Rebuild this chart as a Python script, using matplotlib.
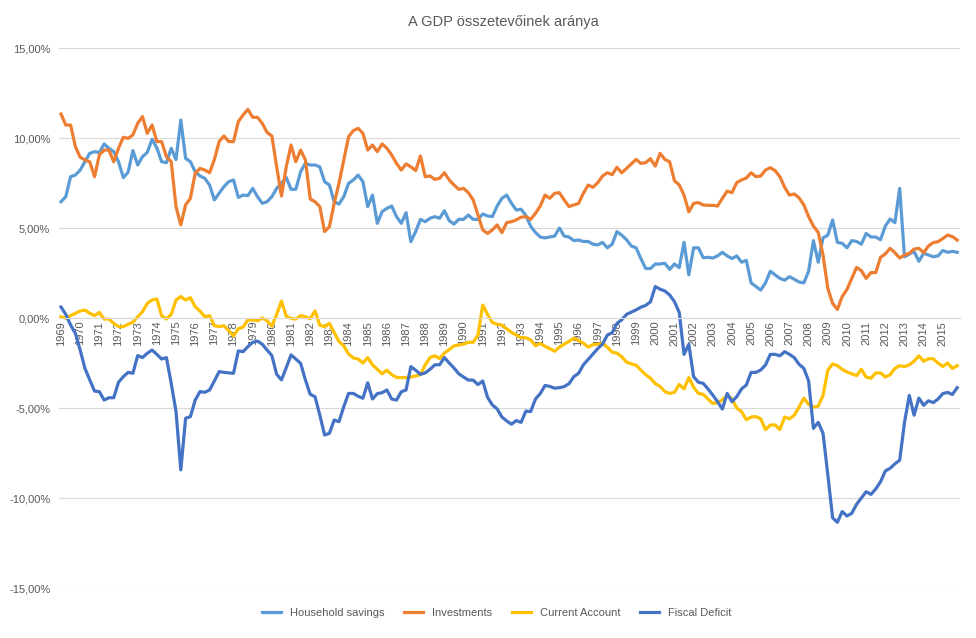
import matplotlib.pyplot as plt
import numpy as np
from matplotlib.ticker import FuncFormatter

# quarterly values, 1969Q1 .. 2015Q4, in % of GDP
years = list(range(1969, 2016))

household_savings = [
    6.46, 6.74, 7.85, 7.94,   8.22, 8.68, 9.15, 9.24,   9.19, 9.67, 9.43, 9.24,
    8.68, 7.8, 8.1, 9.3,      8.5, 8.96, 9.2, 9.93,     9.45, 8.68, 8.63, 9.43,
    8.8, 11.0, 8.87, 8.68,    8.13, 7.89, 7.76, 7.39,   6.56, 6.93, 7.3, 7.57,
    7.67, 6.7, 6.83, 6.8,     7.2, 6.74, 6.37, 6.46,    6.74, 7.2, 7.48, 7.81,
    7.15, 7.15, 8.13, 8.6,    8.5, 8.5, 8.4, 7.57,      7.39, 6.46, 6.33, 6.74,
    7.48, 7.67, 7.94, 7.57,   6.19, 6.83, 5.26, 5.91,   6.09, 6.22, 5.63, 5.26,
    5.85, 4.24, 4.8, 5.48,    5.35, 5.54, 5.63, 5.54,   5.96, 5.41, 5.22, 5.48,
    5.48, 5.72, 5.48, 5.48,   5.78, 5.67, 5.63, 6.22,   6.65, 6.83, 6.37, 6.0,
    6.04, 5.7, 5.1, 4.75,     4.5, 4.45, 4.5, 4.55,     5.0, 4.55, 4.5, 4.3,
    4.33, 4.25, 4.25, 4.1,    4.06, 4.2, 3.9, 4.1,      4.8, 4.6, 4.35, 4.0,
    3.9, 3.3, 2.75, 2.75,     3.0, 3.0, 3.04, 2.7,      3.0, 2.8, 4.2, 2.4,
    3.9, 3.9, 3.35, 3.37,     3.33, 3.45, 3.65, 3.45,   3.3, 3.45, 3.1, 3.2,
    1.95, 1.75, 1.55, 1.95,   2.6, 2.4, 2.2, 2.1,       2.3, 2.15, 2.0, 1.95,
    2.6, 4.3, 3.1, 4.45,      4.6, 5.45, 4.2, 4.15,     3.9, 4.3, 4.25, 4.1,
    4.7, 4.5, 4.5, 4.35,      5.1, 5.5, 5.3, 7.2,       3.4, 3.55, 3.7, 3.15,
    3.6, 3.5, 3.4, 3.45,      3.75, 3.65, 3.7, 3.65,
]

investments = [
    11.33, 10.72, 10.72, 9.52, 8.93, 8.78, 8.68, 7.85,   9.06, 9.33, 9.33, 8.68,
    9.43, 10.04, 9.98, 10.17,  10.81, 11.19, 10.26, 10.72, 9.8, 9.8, 8.96, 8.68,
    6.19, 5.17, 6.28, 6.65,    8.04, 8.31, 8.22, 8.07,   8.8, 9.8, 10.11, 9.8,
    9.8, 10.91, 11.28, 11.59,  11.15, 11.15, 10.81, 10.31, 10.11, 8.4, 6.78, 8.4,
    9.61, 8.68, 9.33, 8.78,    6.61, 6.46, 6.19, 4.8,    5.07, 6.37, 7.48, 8.78,
    10.07, 10.41, 10.54, 10.26, 9.33, 9.61, 9.24, 9.67, 9.43, 9.06, 8.59, 8.22,
    8.56, 8.4, 8.19, 9.0,      7.85, 7.89, 7.7, 7.76,    8.07, 7.67, 7.39, 7.15,
    7.2, 6.96, 6.56, 5.72,     4.89, 4.7, 4.89, 5.17,    4.74, 5.3, 5.35, 5.45,
    5.6, 5.63, 5.48, 5.81,     6.22, 6.83, 6.65, 6.93,   6.96, 6.56, 6.19, 6.28,
    6.37, 6.93, 7.39, 7.26,    7.52, 7.89, 8.07, 7.96,   8.37, 8.07, 8.31, 8.56,
    8.81, 8.59, 8.63, 8.85,    8.44, 9.15, 8.81, 8.68,   7.63, 7.39, 6.83, 5.9,
    6.37, 6.41, 6.28, 6.26,    6.26, 6.22, 6.65, 7.05,   6.96, 7.52, 7.67, 7.78,
    8.07, 7.85, 7.89, 8.22,    8.35, 8.19, 7.85, 7.26,   6.83, 6.89, 6.68, 6.28,
    5.63, 5.1, 4.76, 3.5,      1.65, 0.81, 0.48, 1.19,   1.59, 2.2, 2.81, 2.63,
    2.2, 2.52, 2.52, 3.37,     3.56, 3.87, 3.63, 3.33,   3.5, 3.59, 3.83, 3.87,
    3.63, 4.0, 4.19, 4.24,     4.41, 4.61, 4.52, 4.33,
]

current_account = [
    0.07, -0.02, 0.13, 0.26,   0.39, 0.44, 0.26, 0.13,   0.31, -0.06, -0.06, -0.3,
    -0.48, -0.48, -0.35, -0.24, 0.07, 0.35, 0.81, 1.0,   1.06, 0.13, -0.06, 0.2,
    1.0, 1.19, 1.0, 1.13,      0.63, 0.39, 0.07, 0.13,   -0.42, -0.48, -0.43, -0.7,
    -1.0, -0.6, -0.5, -0.11,   -0.11, -0.15, 0.0, -0.15, -0.45, 0.2, 0.94, 0.1,
    -0.02, -0.06, 0.13, 0.07,  -0.04, 0.4, -0.4, -0.48,  -0.3, -0.8, -1.3, -1.55,
    -2.0, -2.22, -2.28, -2.5,  -2.2, -2.6, -2.85, -3.1,  -2.9, -3.15, -3.3, -3.31,
    -3.31, -3.28, -3.22, -3.15, -2.6, -2.2, -2.1, -2.25, -1.95, -1.75, -1.55, -1.5,
    -1.45, -1.35, -1.35, -0.95, 0.72, 0.2, -0.25, -0.35, -0.39, -0.6, -0.8, -0.95,
    -1.09, -1.1, -1.22, -1.54, -1.41, -1.58, -1.7, -1.85, -1.62, -1.45, -1.3, -1.12,
    -1.25, -1.4, -1.62, -1.48, -1.46, -1.42, -1.62, -1.9, -1.95, -2.15, -2.45, -2.55,
    -2.62, -2.9, -3.15, -3.35, -3.65, -3.8, -4.09, -4.19, -4.13, -3.69, -3.94, -3.31,
    -3.85, -4.19, -4.24, -4.5, -4.75, -4.7, -4.55, -4.3,  -4.5, -5.0, -5.2, -5.65,
    -5.5, -5.48, -5.6, -6.2,   -5.95, -5.94, -6.2, -5.5, -5.6, -5.4, -4.95, -4.45,
    -4.8, -4.95, -4.9, -4.3,   -2.9, -2.55, -2.65, -2.85, -3.0, -3.1, -3.2, -2.85,
    -3.28, -3.35, -3.05, -3.05, -3.28, -3.15, -2.8, -2.65, -2.7, -2.6, -2.4, -2.1,
    -2.4, -2.26, -2.27, -2.5,  -2.7, -2.5, -2.8, -2.65,
]

fiscal_deficit = [
    0.61, 0.2, -0.39, -0.85,   -1.78, -2.8, -3.44, -4.06, -4.09, -4.56, -4.43, -4.43,
    -3.57, -3.26, -3.02, -3.07, -2.09, -2.2, -1.96, -1.78, -2.02, -2.28, -2.2, -3.63,
    -5.2, -8.44, -5.57, -5.48, -4.56, -4.09, -4.13, -4.0, -3.5, -2.98, -3.02, -3.05,
    -3.07, -1.83, -1.87, -1.59, -1.35, -1.28, -1.46, -1.78, -2.09, -3.13, -3.44, -2.76,
    -2.05, -2.28, -2.52, -3.44, -4.24, -4.37, -5.39, -6.5, -6.41, -5.67, -5.76, -4.93,
    -4.19, -4.19, -4.35, -4.46, -3.6, -4.5, -4.2, -4.15, -4.0, -4.5, -4.56, -4.1,
    -4.0, -2.7, -2.9, -3.13,   -3.05, -2.85, -2.6, -2.6, -2.2, -2.5, -2.78, -3.1,
    -3.28, -3.45, -3.45, -3.7, -3.5, -4.4, -4.83, -5.05, -5.5, -5.72, -5.9, -5.7,
    -5.8, -5.17, -5.2, -4.5,   -4.2, -3.75, -3.8, -3.9,  -3.87, -3.81, -3.65, -3.26,
    -3.07, -2.6, -2.3, -2.0,   -1.7, -1.45, -0.95, -0.82, -0.3, -0.1, 0.2, 0.33,
    0.45, 0.6, 0.7, 0.9,       1.75, 1.6, 1.5, 1.28,     0.91, 0.31, -2.02, -1.46,
    -3.26, -3.57, -3.63, -3.94, -4.28, -4.65, -5.06, -4.19, -4.65, -4.37, -3.94, -3.72,
    -3.02, -3.02, -2.89, -2.61, -2.02, -2.02, -2.1, -1.87, -2.02, -2.2, -2.57, -2.8,
    -3.5, -6.13, -5.8, -6.4,   -8.7, -11.1, -11.35, -10.75, -11.0, -10.85, -10.35, -10.0,
    -9.65, -9.8, -9.5, -9.1,   -8.5, -8.35, -8.1, -7.9,  -5.8, -4.3, -5.4, -4.45,
    -4.85, -4.6, -4.7, -4.5,   -4.2, -4.13, -4.25, -3.87,
]

series = [
    ('Household savings', household_savings, '#5B9BD5'),
    ('Investments', investments, '#ED7D31'),
    ('Current Account', current_account, '#FFC000'),
    ('Fiscal Deficit', fiscal_deficit, '#4472C4'),
]

plt.rcParams['font.family'] = ['Liberation Sans', 'DejaVu Sans']
grey = '#595959'

fig = plt.figure(figsize=(9.76, 6.38), dpi=100)
ax = fig.add_axes([58.6 / 976, 50 / 638, 901 / 976, 540 / 638])

x = np.arange(len(household_savings))
for name, vals, col in series:
    ax.plot(x, vals, color=col, lw=2.3, label=name, solid_joinstyle='round')

ax.set_xlim(-0.5, len(x) - 0.5)
ax.set_ylim(-15, 15)
ax.set_yticks(np.arange(-15, 16, 5))
ax.yaxis.set_major_formatter(FuncFormatter(lambda v, p: f'{v:.2f}%'.replace('.', ',')))
ax.grid(axis='y', color='#d9d9d9', lw=0.8)
ax.set_axisbelow(True)

# x axis crosses at zero; set the spine first, it resets the ticks
ax.spines['bottom'].set_position(('data', 0))
ax.spines['bottom'].set_color('#d9d9d9')
for s in ['top', 'right', 'left']:
    ax.spines[s].set_visible(False)
ax.set_xticks(np.arange(0, len(x), 4))
ax.set_xticklabels([str(y) for y in years])
ax.tick_params(axis='x', length=0, pad=2, labelsize=8, labelcolor=grey, labelrotation=90)
ax.tick_params(axis='y', length=0, pad=6, labelsize=8, labelcolor=grey)

fig.text(0.516, 0.966, 'A GDP összetevőinek aránya', ha='center', va='center',
         fontsize=10.5, color=grey)
fig.legend(loc='center', bbox_to_anchor=(0.509, 0.039), ncol=4, frameon=False,
           fontsize=8, labelcolor=grey, handlelength=1.7, columnspacing=1.8)

fig.savefig('out.png', dpi=100)
